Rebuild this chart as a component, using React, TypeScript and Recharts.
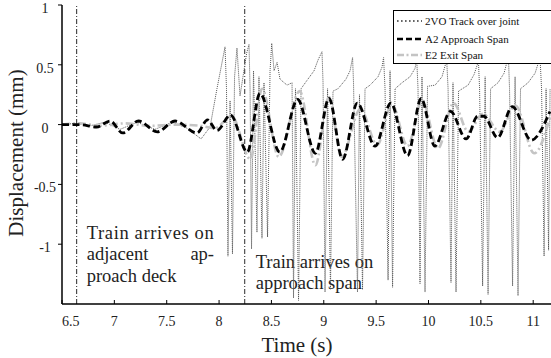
import { LineChart, Line, XAxis, YAxis, ReferenceLine, Legend } from 'recharts';

// time axis ticks and displacement ticks
const xTicks = [6.5, 7, 7.5, 8, 8.5, 9, 9.5, 10, 10.5, 11];
const yTicks = [1, 0.5, 0, -0.5, -1];
// moments the train reaches the decks (dash-dot markers)
const arrivalTimes = [6.64, 8.245];

// 2VO Track over joint
const trackTime = [6.5, 6.624, 6.767, 6.911, 7.054, 7.216, 7.388, 7.551, 7.694, 7.828, 7.914, 7.98, 8.057, 8.071, 8.085, 8.105, 8.128, 8.148, 8.171, 8.2, 8.264, 8.286, 8.296, 8.31, 8.329, 8.362, 8.381, 8.41, 8.429, 8.463, 8.487, 8.503, 8.525, 8.554, 8.582, 8.649, 8.697, 8.711, 8.73, 8.759, 8.783, 8.84, 8.907, 8.945, 8.983, 8.993, 9.012, 9.036, 9.064, 9.088, 9.136, 9.212, 9.251, 9.275, 9.284, 9.322, 9.341, 9.37, 9.394, 9.442, 9.518, 9.556, 9.571, 9.585, 9.614, 9.633, 9.657, 9.681, 9.747, 9.824, 9.871, 9.888, 9.9, 9.919, 9.938, 9.967, 9.991, 10.063, 10.129, 10.174, 10.187, 10.215, 10.234, 10.263, 10.287, 10.378, 10.436, 10.477, 10.488, 10.517, 10.541, 10.569, 10.593, 10.664, 10.722, 10.763, 10.774, 10.803, 10.827, 10.855, 10.879, 10.951, 11.018, 11.065, 11.08, 11.104, 11.123, 11.147, 11.161];
const trackDisp = [0, 0.01, -0.01, 0.02, -0.04, 0.02, -0.04, 0.02, -0.03, -0.12, -0.02, 0.3, 0.65, 0.3, -1.1, 0.2, -1.08, 0.4, 0.64, 0.24, 0.6, 0.67, 0.3, -1.04, 0.45, -0.9, 0.4, -0.95, 0.35, -0.94, 0.45, 0.68, 0.45, 0.52, 0.38, 0.33, 0.35, -1.45, 0.3, -1.47, 0.3, 0.37, 0.45, 0.54, 0.61, 0.35, -1.4, 0.3, -1.38, 0.28, 0.3, 0.38, 0.45, 0.56, 0.35, -1.4, 0.25, -1.38, 0.3, 0.33, 0.4, 0.48, 0.56, 0.3, -1.3, 0.45, -1.36, 0.3, 0.35, 0.4, 0.47, 0.54, 0.3, -1.33, 0.4, -1.4, 0.32, 0.33, 0.4, 0.54, 0.3, -1.32, 0.35, -1.4, 0.28, 0.33, 0.42, 0.53, 0.3, -1.35, 0.4, -1.42, 0.3, 0.35, 0.43, 0.57, 0.3, -1.35, 0.4, -1.43, 0.3, 0.35, 0.43, 0.56, 0.3, -1.1, 0.3, -1.05, 0.3];

// A2 Approach Span
const approachTime = [6.5, 6.67, 6.83, 6.96, 7.08, 7.23, 7.41, 7.58, 7.79, 7.89, 7.98, 8.11, 8.27, 8.39, 8.58, 8.75, 8.92, 9.05, 9.18, 9.32, 9.49, 9.64, 9.8, 9.93, 10.06, 10.21, 10.36, 10.47, 10.53, 10.66, 10.8, 10.98, 11.16];
const approachDisp = [0, 0, -0.02, 0.03, -0.07, 0.03, -0.06, 0.03, -0.07, 0.04, -0.05, 0.08, -0.23, 0.26, -0.23, 0.21, -0.24, 0.22, -0.29, 0.18, -0.18, 0.18, -0.26, 0.22, -0.18, 0.11, -0.12, 0.07, 0.07, -0.11, 0.15, -0.13, 0.11];

// E2 Exit Span
const exitTime = [6.5, 6.67, 6.86, 7.1, 7.34, 7.58, 7.82, 7.96, 8.12, 8.3, 8.41, 8.57, 8.77, 8.92, 9.05, 9.17, 9.35, 9.51, 9.65, 9.8, 9.94, 10.09, 10.24, 10.38, 10.52, 10.68, 10.83, 11.01, 11.16];
const exitDisp = [0, 0.01, -0.01, 0.01, -0.01, 0, -0.01, -0.03, 0.07, -0.29, 0.3, -0.27, 0.28, -0.34, 0.23, -0.27, 0.13, -0.17, 0.17, -0.18, 0.2, -0.2, 0.18, -0.06, 0.09, -0.06, 0.16, -0.24, 0.06];

const zip = (t: number[], v: number[]) => t.map((time, i) => ({ time, value: v[i] }));

const trackData = zip(trackTime, trackDisp);
const approachData = zip(approachTime, approachDisp);
const exitData = zip(exitTime, exitDisp);

const FONT = 'Liberation Serif, Times New Roman, serif';

const BottomTick = (props: any) => {
  const { x, y, payload, index } = props;
  return (
    <g>
      <line x1={x} x2={x} y1={y} y2={y - 4} stroke="#000" strokeWidth={1} />
      <text x={x} y={y + 22} textAnchor={index === 0 ? 'start' : 'middle'} fontFamily={FONT} fontSize={14} fill="#222">
        {payload.value}
      </text>
    </g>
  );
};

const TopTick = (props: any) => {
  const { x, y } = props;
  return <line x1={x} x2={x} y1={y} y2={y + 5} stroke="#000" strokeWidth={1} />;
};

const LeftTick = (props: any) => {
  const { x, y, payload } = props;
  return (
    <text x={x - 13} y={y + 8} textAnchor="middle" fontFamily={FONT} fontSize={14} fill="#222">
      {payload.value}
    </text>
  );
};

const LegendBox = () => (
  <svg width={160} height={54} style={{ display: 'block' }}>
    <rect x={0.5} y={0.5} width={170} height={53} fill="#fff" stroke="#000" strokeWidth={1} />
    <line x1={4} x2={29} y1={11} y2={11} stroke="#333" strokeWidth={1.6} strokeDasharray="1.6 2.4" />
    <text x={32} y={14.5} fontFamily={FONT} fontSize={11} fill="#111">2VO Track over joint</text>
    <line x1={4} x2={29} y1={29} y2={29} stroke="#000" strokeWidth={2.6} strokeDasharray="6 3" />
    <text x={32} y={32.5} fontFamily={FONT} fontSize={11} fill="#111">A2 Approach Span</text>
    <line x1={4} x2={29} y1={45} y2={45} stroke="#c4c4c4" strokeWidth={2.4} strokeDasharray="7 2.5 2 2.5" />
    <text x={32} y={48.5} fontFamily={FONT} fontSize={11} fill="#111">E2 Exit Span</text>
  </svg>
);

export default function App() {
  return (
    <div style={{ position: 'absolute', left: 0, top: 0, width: 551, height: 358, background: '#fff', fontFamily: FONT }}>
      <LineChart width={551} height={358} data={approachData} margin={{ top: 5, right: 0, bottom: 0, left: 0 }}>
        <XAxis
          dataKey="time"
          type="number"
          domain={[6.5, 11.17]}
          ticks={xTicks}
          interval={0}
          height={54}
          tickSize={0}
          tickMargin={0}
          tickLine={false}
          tick={BottomTick}
          axisLine={{ stroke: '#000', strokeWidth: 1.5 }}
          allowDataOverflow
        />
        <XAxis
          xAxisId="top"
          dataKey="time"
          type="number"
          orientation="top"
          domain={[6.5, 11.17]}
          ticks={xTicks}
          interval={0}
          height={0}
          tickSize={0}
          tickMargin={0}
          tickLine={false}
          tick={TopTick}
          axisLine={{ stroke: '#000', strokeWidth: 1.5 }}
          allowDataOverflow
        />
        <YAxis
          type="number"
          domain={[-1.5, 1]}
          ticks={yTicks}
          interval={0}
          width={62}
          tickSize={4}
          tickMargin={0}
          tick={LeftTick}
          tickLine={{ stroke: '#000' }}
          axisLine={{ stroke: '#000', strokeWidth: 1.5 }}
          allowDataOverflow
        />
        {arrivalTimes.map((t) => (
          <ReferenceLine key={t} x={t} stroke="#111" strokeWidth={0.9} strokeDasharray="5 2 1 2" />
        ))}
        <Line
          data={trackData}
          dataKey="value"
          type="linear"
          stroke="#555"
          strokeWidth={1}
          strokeDasharray="1 1"
          dot={false}
          isAnimationActive={false}
        />
        <Line
          data={exitData}
          dataKey="value"
          type="monotone"
          stroke="#c4c4c4"
          strokeWidth={2.6}
          strokeDasharray="8 3 2 3"
          dot={false}
          isAnimationActive={false}
        />
        <Line
          data={approachData}
          dataKey="value"
          type="monotone"
          stroke="#000"
          strokeWidth={2.8}
          strokeDasharray="7 3.5"
          dot={false}
          isAnimationActive={false}
        />
        <g fontFamily={FONT} fill="#222">
          <text x={297} y={352} textAnchor="middle" fontSize={21}>Time (s)</text>
          <text x={23} y={153} textAnchor="middle" fontSize={21} transform="rotate(-90 23 153)">Displacement (mm)</text>
        </g>
        <g fontFamily={FONT} fontSize={18.5} fill="#222">
          <text x={86.7} y={239} textLength={127} lengthAdjust="spacing">Train arrives on</text>
          <text x={86.7} y={260}>adjacent</text>
          <text x={214} y={260} textAnchor="end">ap-</text>
          <text x={86.7} y={281.7}>proach deck</text>
          <text x={255.7} y={268}>Train arrives on</text>
          <text x={255.7} y={289}>approach span</text>
        </g>
        <Legend
          layout="vertical"
          align="center"
          verticalAlign="middle"
          content={LegendBox}
          wrapperStyle={{ left: 393, top: 10, width: 160, height: 54 }}
        />
      </LineChart>
    </div>
  );
}
